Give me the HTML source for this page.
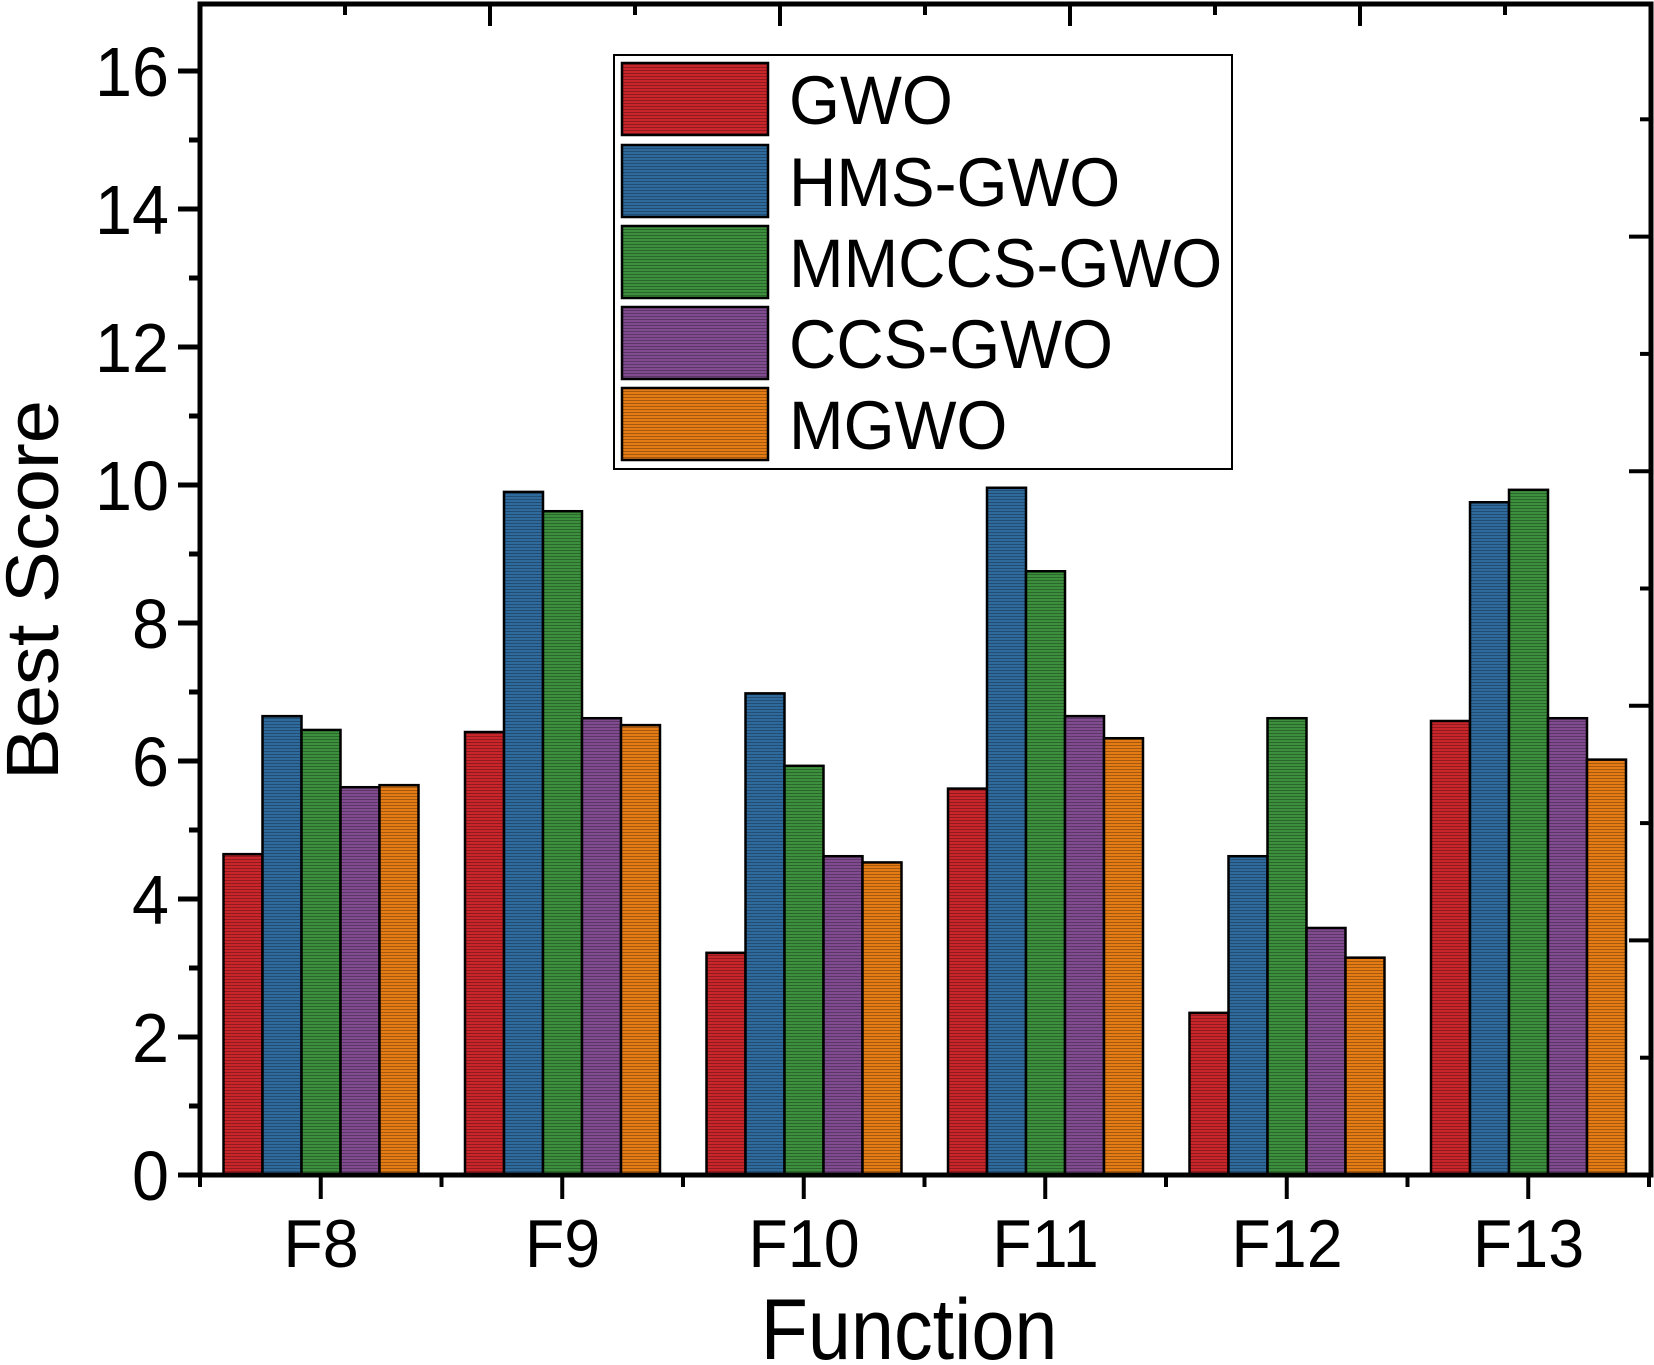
<!DOCTYPE html>
<html><head><meta charset="utf-8"><style>html,body{margin:0;padding:0;background:#fff}svg{display:block}text{font-family:"Liberation Sans",Arial,sans-serif;fill:#000}</style></head><body>
<svg width="1654" height="1365" viewBox="0 0 1654 1365" xmlns="http://www.w3.org/2000/svg">
<defs>
<pattern id="h" width="4" height="3" patternUnits="userSpaceOnUse"><rect width="4" height="1" y="1" fill="#000" opacity="0.28"/></pattern>
</defs>
<g id="bars" stroke="#000" stroke-width="2.5"></g>
<g id="ax" stroke="#000"></g>
<g id="lbl"></g>
<rect x="614" y="55" width="618" height="414" fill="#fff" stroke="#000" stroke-width="2"/>
<g stroke="#000" stroke-width="2.5">
<rect x="622" y="63" width="146" height="72" fill="#c8262b"/>
<rect x="622" y="145" width="146" height="72" fill="#2f6a9c"/>
<rect x="622" y="226" width="146" height="72" fill="#3c8f3c"/>
<rect x="622" y="307" width="146" height="72" fill="#814b90"/>
<rect x="622" y="388" width="146" height="72" fill="#e57b15"/>
</g>
<g fill="url(#h)"><rect x="622" y="63" width="146" height="72"/><rect x="622" y="145" width="146" height="72"/><rect x="622" y="226" width="146" height="72"/><rect x="622" y="307" width="146" height="72"/><rect x="622" y="388" width="146" height="72"/></g>
<g font-size="69">
<text transform="translate(789,124) scale(0.95,1)">GWO</text>
<text transform="translate(789,206) scale(0.95,1)">HMS-GWO</text>
<text transform="translate(789,287) scale(0.95,1)">MMCCS-GWO</text>
<text transform="translate(789,368) scale(0.95,1)">CCS-GWO</text>
<text transform="translate(789,449) scale(0.95,1)">MGWO</text>
</g>
<text transform="translate(58,590) rotate(-90) scale(1.05,1)" text-anchor="middle" font-size="74">Best Score</text>
<text transform="translate(909,1359) scale(0.9,1)" text-anchor="middle" font-size="86">Function</text>
<script>
const NS="http://www.w3.org/2000/svg";
function el(p,t,a,txt){const e=document.createElementNS(NS,t);for(const k in a)e.setAttribute(k,a[k]);if(txt!==undefined)e.textContent=txt;p.appendChild(e);return e;}
const data=[[4.65,6.65,6.45,5.62,5.65],[6.42,9.9,9.62,6.62,6.52],[3.22,6.98,5.93,4.62,4.53],[5.6,9.96,8.75,6.65,6.33],[2.35,4.62,6.62,3.58,3.15],[6.58,9.75,9.93,6.62,6.02]];
const cols=["#c8262b","#2f6a9c","#3c8f3c","#814b90","#e57b15"];
const y0=1175,u=69,bw=39;
const bars=document.getElementById("bars");
data.forEach((g,i)=>{const c=321+241.5*i;g.forEach((v,j)=>{const x=c-97.5+j*bw,h=v*u;el(bars,"rect",{x:x,y:y0-h,width:bw,height:h,fill:cols[j]});el(bars,"rect",{x:x,y:y0-h,width:bw,height:h,fill:"url(#h)",stroke:"none"});});});
const ax=document.getElementById("ax"),lb=document.getElementById("lbl");
el(ax,"rect",{x:200,y:4,width:1451,height:1171,fill:"none","stroke-width":5});
for(let k=0;k<=16;k++){const y=y0-k*u;const big=k%2==0;el(ax,"line",{x1:200,x2:big?178:189,y1:y,y2:y,"stroke-width":5});if(big)el(lb,"text",{transform:"translate(169,"+(y+25)+") scale(0.95,1)","text-anchor":"end","font-size":70},String(k));}
for(let i=0;i<=12;i++){const x=200+120.75*i;const big=i%2==1;el(ax,"line",{x1:x,x2:x,y1:y0,y2:big?1199:1187,"stroke-width":4});}
["F8","F9","F10","F11","F12","F13"].forEach((t,i)=>el(lb,"text",{transform:"translate("+(321+241.5*i)+",1267) scale(0.95,1)","text-anchor":"middle","font-size":68},t));
for(let k=0;k<=10;k++){const x=200+145*k;if(x>1640)break;el(ax,"line",{x1:x,x2:x,y1:4,y2:k%2==0?26:15,"stroke-width":4});}
for(let k=0;k<=10;k++){const y=y0-117.3*k;if(y<10)break;el(ax,"line",{x1:1651,x2:k%2==0?1629:1640,y1:y,y2:y,"stroke-width":4});}
</script>
</svg>
</body></html>
